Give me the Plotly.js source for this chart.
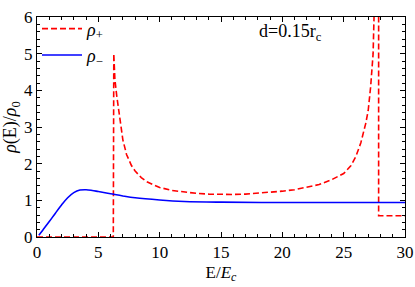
<!DOCTYPE html>
<html><head><meta charset="utf-8">
<script src="https://cdn.plot.ly/plotly-3.0.1.min.js"></script>
<style>html,body{margin:0;padding:0;background:#fff}#chart{width:415px;height:287px}</style>
</head><body><div id="chart"></div>
<script>
// rho_+ (red dashed)
const eplus = [0, 6.22, 6.26, 6.35, 6.5, 6.7, 7.0, 7.3, 7.7, 8.0, 8.5, 9.0, 10, 11, 12, 13, 14, 15, 16, 17, 18, 19, 20, 21, 22, 23, 24, 25, 25.6, 26.0, 26.4, 26.8, 27.0, 27.2, 27.4, 27.55, 27.85, 27.85, 30];
const rplus = [0, 0, 5.0, 4.3, 3.85, 3.4, 2.65, 2.25, 1.95, 1.8, 1.62, 1.5, 1.35, 1.27, 1.22, 1.19, 1.17, 1.16, 1.16, 1.17, 1.19, 1.22, 1.25, 1.29, 1.35, 1.43, 1.56, 1.73, 1.95, 2.2, 2.57, 3.1, 3.45, 4.1, 5.0, 7, 7, 0.58, 0.58];
// rho_- (blue solid)
const eminus = [0.15, 0.5, 1.0, 1.5, 2.0, 2.5, 3.0, 3.5, 4.0, 4.5, 5.0, 6.0, 7.0, 8.0, 10, 12, 15, 20, 25, 30];
const rminus = [0.05, 0.2, 0.42, 0.65, 0.87, 1.07, 1.21, 1.28, 1.29, 1.27, 1.24, 1.18, 1.12, 1.07, 1.01, 0.97, 0.95, 0.94, 0.94, 0.94];
const xticks = [0, 5, 10, 15, 20, 25, 30];
const yticks = [0, 1, 2, 3, 4, 5, 6];

const F = 'Liberation Serif';
const traces = [
  {x: eplus, y: rplus, mode: 'lines', name: '<i>ρ</i><sub>+</sub>',
   line: {color: '#ff0000', width: 1.6, dash: '6px,3px'}},
  {x: eminus, y: rminus, mode: 'lines', name: '<i>ρ</i><sub>−</sub>', line: {color: '#0000ff', width: 1.6, shape: 'spline'}}
];
const axisCommon = {
  showgrid: false, zeroline: false, showline: true, linecolor: '#000', linewidth: 1,
  mirror: 'ticks', ticks: 'inside', ticklen: 5, tickcolor: '#000', tickwidth: 1,
  tickfont: {family: F, size: 17, color: '#000'}
};
const layout = {
  width: 415, height: 287,
  margin: {l: 37, r: 10, t: 11, b: 50},
  paper_bgcolor: '#fff', plot_bgcolor: '#fff',
  font: {family: F, color: '#000'},
  showlegend: true,
  legend: {x: 0.0, y: 1.03, xanchor: 'left', yanchor: 'top', bgcolor: 'rgba(0,0,0,0)',
           font: {family: F, size: 18, color: '#000'}, tracegroupgap: 0, itemwidth: 40},
  xaxis: Object.assign({}, axisCommon, {range: [0, 30], tickvals: xticks, ticktext: xticks.map(String),
    minor: {ticks: 'inside', ticklen: 3, dtick: 1, tickcolor: '#000'},
    title: {text: 'E/<i>E</i><sub><i>c</i></sub>', font: {family: F, size: 17, color: '#000'}, standoff: 4}}),
  yaxis: Object.assign({}, axisCommon, {range: [0, 6], tickvals: yticks, ticktext: yticks.map(String),
    minor: {ticks: 'inside', ticklen: 3, dtick: 0.2, tickcolor: '#000'},
    title: {text: '<i>ρ</i>(E)/<i>ρ</i><sub>0</sub>', font: {family: F, size: 18, color: '#000'}, standoff: 2}}),
  annotations: [{xref: 'paper', yref: 'paper', x: 0.69, y: 0.87, xanchor: 'center', yanchor: 'bottom', showarrow: false,
    text: 'd=0.15r<sub>c</sub>', font: {family: F, size: 18, color: '#000'}}]
};
Plotly.newPlot('chart', traces, layout, {displayModeBar: false, staticPlot: true});
</script></body></html>
